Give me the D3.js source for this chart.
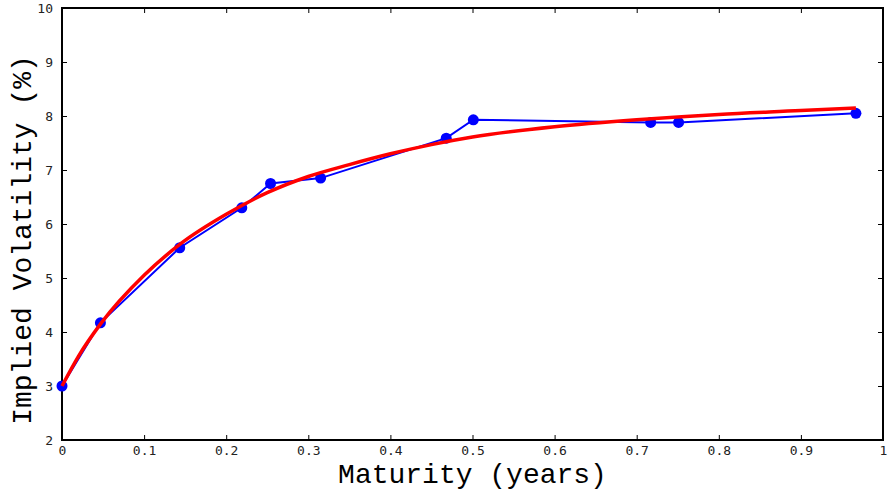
<!DOCTYPE html>
<head>
  <meta charset="utf-8">
  <title>Implied Volatility Term Structure</title>
  <style>
    body { margin: 0; background: #fff; }
    .tick text { font-family: "DejaVu Sans Mono", monospace; font-size: 13px; fill: #222; }
    .axis-label { font-family: "Liberation Mono", "Courier New", monospace; font-size: 28px; fill: #000; }
  </style>
</head>
<body>
<div id="chart"></div>
<script src="https://cdn.jsdelivr.net/npm/d3@7/dist/d3.min.js"></script>
<script>

// market points (maturity in years, implied vol in %)
var maturities = [0, 0.0468, 0.1434, 0.219, 0.254, 0.315, 0.468, 0.501, 0.717, 0.751, 0.967];
var vols       = [3.0, 4.17, 5.56, 6.30, 6.75, 6.85, 7.59, 7.93, 7.88, 7.88, 8.05];

// fitted curve
var fitT   = [0, 0.02, 0.047, 0.1, 0.145, 0.2, 0.25, 0.3, 0.35, 0.4, 0.45, 0.5, 0.6, 0.7, 0.8, 0.9, 0.967];
var fitVol = [3.0, 3.55, 4.15, 5.05, 5.64, 6.18, 6.58, 6.88, 7.1, 7.3, 7.47, 7.61, 7.8, 7.93, 8.03, 8.1, 8.15];

var xTicks = [0, 0.1, 0.2, 0.3, 0.4, 0.5, 0.6, 0.7, 0.8, 0.9, 1];
var yTicks = [2, 3, 4, 5, 6, 7, 8, 9, 10];

var width = 888, height = 491;
var margin = {left: 62, right: 5, top: 8, bottom: 51};

var x = d3.scaleLinear().domain([0, 1]).range([margin.left, width - margin.right]);
var y = d3.scaleLinear().domain([2, 10]).range([height - margin.bottom, margin.top]);

var svg = d3.select("#chart").append("svg")
    .attr("width", width)
    .attr("height", height);

var fmtX = function(d) { return d === 0 ? "0" : d === 1 ? "1" : d3.format(".1f")(d); };

// axes, ticks pointing inward on all four sides
svg.append("g")
    .attr("transform", "translate(0," + y(2) + ")")
    .call(d3.axisBottom(x).tickValues(xTicks).tickFormat(fmtX).tickSizeInner(-5).tickSizeOuter(0).tickPadding(6))
    .call(function(g) { g.select(".domain").remove(); });

svg.append("g")
    .attr("transform", "translate(0," + y(10) + ")")
    .call(d3.axisTop(x).tickValues(xTicks).tickFormat("").tickSizeInner(-5).tickSizeOuter(0))
    .call(function(g) { g.select(".domain").remove(); });

svg.append("g")
    .attr("transform", "translate(" + x(0) + ",0)")
    .call(d3.axisLeft(y).tickValues(yTicks).tickFormat(d3.format("d")).tickSizeInner(-5).tickSizeOuter(0).tickPadding(9))
    .call(function(g) { g.select(".domain").remove(); });

svg.append("g")
    .attr("transform", "translate(" + x(1) + ",0)")
    .call(d3.axisRight(y).tickValues(yTicks).tickFormat("").tickSizeInner(-5).tickSizeOuter(0))
    .call(function(g) { g.select(".domain").remove(); });

svg.selectAll(".tick line").attr("stroke", "#000").attr("stroke-width", 1);

// frame
svg.append("rect")
    .attr("x", x(0))
    .attr("y", y(10))
    .attr("width", x(1) - x(0))
    .attr("height", y(2) - y(10))
    .attr("fill", "none")
    .attr("stroke", "#000")
    .attr("stroke-width", 2);

// market data
var pts = maturities.map(function(t, i) { return {t: t, v: vols[i]}; });

var line = d3.line()
    .x(function(d) { return x(d.t); })
    .y(function(d) { return y(d.v); });

svg.append("path")
    .datum(pts)
    .attr("d", line)
    .attr("fill", "none")
    .attr("stroke", "#0000ff")
    .attr("stroke-width", 2);

svg.append("g")
    .selectAll("circle")
    .data(pts)
    .enter().append("circle")
    .attr("cx", function(d) { return x(d.t); })
    .attr("cy", function(d) { return y(d.v); })
    .attr("r", 5.5)
    .attr("fill", "#0000ff");

// fitted curve
var fit = fitT.map(function(t, i) { return {t: t, v: fitVol[i]}; });

svg.append("path")
    .datum(fit)
    .attr("d", line.curve(d3.curveMonotoneX))
    .attr("fill", "none")
    .attr("stroke", "#ff0000")
    .attr("stroke-width", 3.5);

// axis labels
svg.append("text")
    .attr("class", "axis-label")
    .attr("x", (x(0) + x(1)) / 2)
    .attr("y", 483)
    .attr("text-anchor", "middle")
    .text("Maturity (years)");

svg.append("text")
    .attr("class", "axis-label")
    .attr("transform", "translate(31,240) rotate(-90)")
    .attr("text-anchor", "middle")
    .text("Implied Volatility (%)");

</script>
</body>
</html>
